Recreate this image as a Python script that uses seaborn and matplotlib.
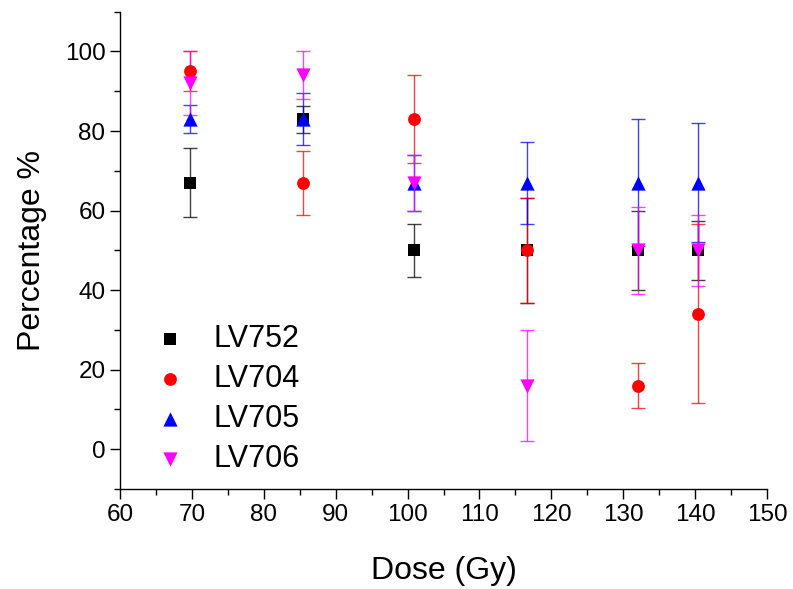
import numpy as np
import pandas as pd
import matplotlib
matplotlib.use("Agg")
import matplotlib.pyplot as plt
import seaborn as sns
from matplotlib.ticker import MultipleLocator

# ---- data ----
dose = [69.8, 85.4, 100.9, 116.6, 132.0, 140.4]
series_names = ["LV752", "LV704", "LV705", "LV706"]
lv752 = [67, 83, 50, 50, 50, 50]
lv752_err = [8.7, 3.4, 6.7, 13.2, 10.0, 7.5]
lv704 = [95, 67, 83, 50, 16, 34]
lv704_err = [5.0, 8.0, 11.0, 13.2, 5.6, 22.5]
lv705 = [83, 83, 67, 67, 67, 67]
lv705_err = [3.5, 6.5, 7.0, 10.3, 16.0, 15.0]
lv706 = [92, 94, 67, 16, 50, 50]
lv706_err = [8.0, 6.0, 7.0, 14.0, 11.0, 9.0]

values = [lv752, lv704, lv705, lv706]
errors = [lv752_err, lv704_err, lv705_err, lv706_err]
colors = ["#000000", "#FF0000", "#0000FF", "#FF00FF"]
markers = ["s", "o", "^", "v"]
msizes = [64, 85, 105, 105]

sns.set_style("ticks")
plt.rcParams["font.family"] = ["Liberation Sans", "DejaVu Sans"]
plt.rcParams["text.color"] = "black"
plt.rcParams["axes.labelcolor"] = "black"

fig = plt.figure(figsize=(7.93, 5.89), dpi=100)
ax = fig.add_axes([120 / 793, (589 - 489) / 589, 647 / 793, 477.3 / 589])

for name, v, e, c, m, s in zip(series_names, values, errors, colors, markers, msizes):
    df = pd.DataFrame({"Dose": dose, "Pct": v})
    ax.errorbar(dose, v, yerr=e, fmt="none", ecolor=c, alpha=0.75,
                elinewidth=1.0, capsize=5, capthick=1.0, zorder=2)
    sns.scatterplot(data=df, x="Dose", y="Pct", marker=m, color=c, s=s,
                    linewidth=0, label=name, ax=ax, zorder=3)

ax.set_xlim(60, 150)
ax.set_ylim(-10, 110)
ax.xaxis.set_major_locator(MultipleLocator(10))
ax.xaxis.set_minor_locator(MultipleLocator(5))
ax.yaxis.set_major_locator(MultipleLocator(20))
ax.yaxis.set_minor_locator(MultipleLocator(10))
ax.tick_params(which="major", direction="out", length=7, width=1, labelsize=17.5,
               colors="black", labelcolor="black")
ax.tick_params(which="minor", direction="out", length=4, width=1, colors="black")
for sp in ["top", "right"]:
    ax.spines[sp].set_visible(False)
for sp in ["left", "bottom"]:
    ax.spines[sp].set_linewidth(1.0)
    ax.spines[sp].set_color("black")

ax.set_xlabel("Dose (Gy)", fontsize=23, labelpad=22, color="black")
ax.set_ylabel("Percentage %", fontsize=23, labelpad=13, color="black")

leg = ax.legend(loc="upper left", bbox_to_anchor=(0.023, 0.372), frameon=False,
                fontsize=22, labelspacing=0.33, handletextpad=0.67, borderaxespad=0,
                handlelength=1.5)
for t in leg.get_texts():
    t.set_color("black")

fig.savefig("out.png", dpi=100)
